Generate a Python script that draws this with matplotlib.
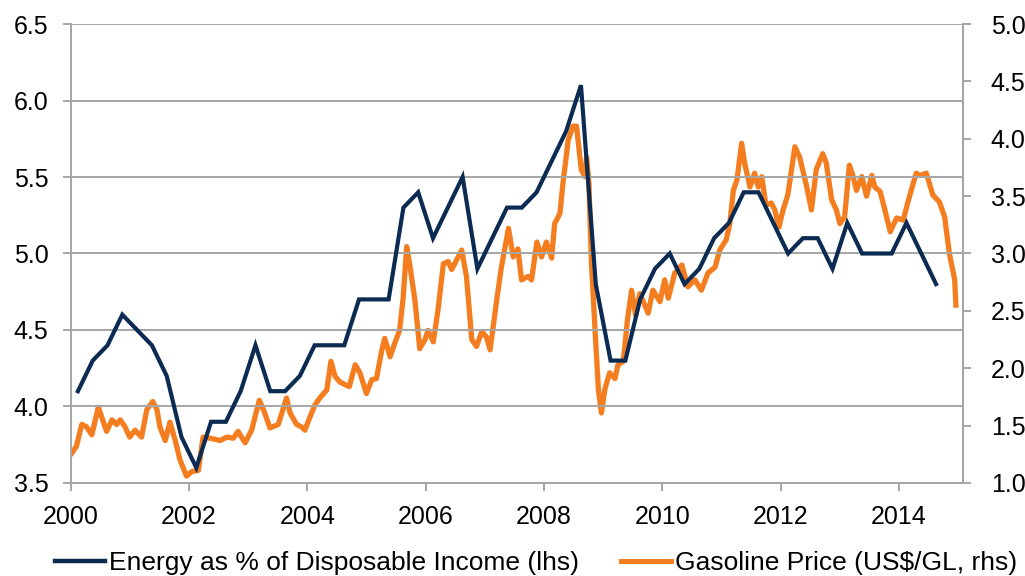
import matplotlib
matplotlib.use("Agg")
import matplotlib.pyplot as plt
from matplotlib.lines import Line2D

plt.rcParams['font.family'] = ['Liberation Sans', 'DejaVu Sans']

# Energy as % of disposable income (quarterly, lhs)
energy_start = 2000.125
energy_values = [
    4.1, 4.3, 4.4, 4.6,
    4.5, 4.4, 4.2, 3.8,
    3.6, 3.9, 3.9, 4.1,
    4.4, 4.1, 4.1, 4.2,
    4.4, 4.4, 4.4, 4.7,
    4.7, 4.7, 5.3, 5.4,
    5.1, 5.3, 5.5, 4.9,
    5.1, 5.3, 5.3, 5.4,
    5.6, 5.8, 6.1, 4.8,
    4.3, 4.3, 4.7, 4.9,
    5.0, 4.8, 4.9, 5.1,
    5.2, 5.4, 5.4, 5.2,
    5.0, 5.1, 5.1, 4.9,
    5.2, 5.0, 5.0, 5.0,
    5.2, 5.0, 4.8,
]
energy_dates = [energy_start + 0.25 * i for i in range(len(energy_values))]

# Gasoline price (US$/gal, rhs)
gas_dates = [
    2000.02, 2000.10, 2000.19, 2000.27, 2000.36, 2000.47, 2000.61, 2000.70,
    2000.78, 2000.84, 2000.92, 2001.00, 2001.09, 2001.20, 2001.29, 2001.39,
    2001.46, 2001.51, 2001.60, 2001.68, 2001.77, 2001.85, 2001.96, 2002.05,
    2002.16, 2002.24, 2002.36, 2002.53, 2002.64, 2002.75, 2002.83, 2002.95,
    2003.06, 2003.19, 2003.26, 2003.37, 2003.51, 2003.65, 2003.71, 2003.82,
    2003.90, 2003.96, 2004.05, 2004.13, 2004.21, 2004.33, 2004.40, 2004.47,
    2004.55, 2004.71, 2004.81, 2004.89, 2005.00, 2005.09, 2005.17, 2005.26,
    2005.31, 2005.40, 2005.48, 2005.56, 2005.62, 2005.68, 2005.73, 2005.82,
    2005.90, 2005.99, 2006.04, 2006.13, 2006.21, 2006.30, 2006.38, 2006.44,
    2006.52, 2006.61, 2006.69, 2006.78, 2006.86, 2006.95, 2007.03, 2007.09,
    2007.20, 2007.28, 2007.40, 2007.48, 2007.56, 2007.62, 2007.73, 2007.79,
    2007.88, 2007.96, 2008.04, 2008.13, 2008.18, 2008.27, 2008.32, 2008.41,
    2008.49, 2008.55, 2008.63, 2008.69, 2008.72, 2008.76, 2008.80, 2008.86,
    2008.92, 2008.97, 2009.03, 2009.11, 2009.20, 2009.25, 2009.34, 2009.41,
    2009.48, 2009.55, 2009.62, 2009.76, 2009.84, 2009.96, 2010.04, 2010.10,
    2010.21, 2010.33, 2010.43, 2010.55, 2010.66, 2010.77, 2010.89, 2010.97,
    2011.08, 2011.14, 2011.20, 2011.26, 2011.34, 2011.39, 2011.48, 2011.56,
    2011.62, 2011.68, 2011.75, 2011.84, 2011.90, 2011.97, 2012.04, 2012.12,
    2012.24, 2012.32, 2012.44, 2012.52, 2012.60, 2012.71, 2012.77, 2012.86,
    2012.94, 2013.00, 2013.08, 2013.16, 2013.22, 2013.28, 2013.37, 2013.45,
    2013.54, 2013.59, 2013.68, 2013.76, 2013.85, 2013.96, 2014.07, 2014.15,
    2014.29, 2014.35, 2014.46, 2014.57, 2014.68, 2014.77, 2014.85, 2014.94,
    2014.96,
]
gas_prices = [
    1.26, 1.32, 1.51, 1.49, 1.42, 1.66, 1.45, 1.55,
    1.51, 1.55, 1.49, 1.40, 1.46, 1.40, 1.64, 1.71,
    1.64, 1.49, 1.37, 1.53, 1.37, 1.20, 1.06, 1.10,
    1.11, 1.40, 1.39, 1.37, 1.40, 1.39, 1.45, 1.35,
    1.46, 1.72, 1.64, 1.48, 1.51, 1.74, 1.61, 1.51,
    1.49, 1.46, 1.58, 1.68, 1.74, 1.81, 2.06, 1.93,
    1.88, 1.84, 2.03, 1.96, 1.78, 1.90, 1.91, 2.16,
    2.26, 2.10, 2.22, 2.33, 2.61, 3.06, 2.91, 2.59,
    2.17, 2.25, 2.33, 2.23, 2.51, 2.91, 2.93, 2.86,
    2.94, 3.03, 2.80, 2.25, 2.19, 2.32, 2.27, 2.16,
    2.59, 2.88, 3.22, 2.97, 3.04, 2.77, 2.80, 2.77,
    3.10, 2.97, 3.10, 2.96, 3.26, 3.35, 3.61, 3.99,
    4.11, 4.11, 3.73, 3.67, 3.84, 3.61, 2.94, 2.36,
    1.81, 1.61, 1.82, 1.96, 1.91, 2.03, 2.06, 2.42,
    2.68, 2.46, 2.65, 2.48, 2.68, 2.58, 2.77, 2.61,
    2.83, 2.90, 2.71, 2.77, 2.68, 2.83, 2.88, 3.03,
    3.12, 3.26, 3.55, 3.64, 3.96, 3.79, 3.58, 3.70,
    3.58, 3.67, 3.42, 3.44, 3.38, 3.23, 3.38, 3.51,
    3.93, 3.84, 3.58, 3.38, 3.73, 3.87, 3.79, 3.47,
    3.38, 3.26, 3.32, 3.77, 3.68, 3.55, 3.67, 3.50,
    3.68, 3.58, 3.54, 3.38, 3.19, 3.31, 3.29, 3.45,
    3.70, 3.68, 3.70, 3.51, 3.45, 3.32, 3.00, 2.77,
    2.55,
]

x_ticks = [2000, 2002, 2004, 2006, 2008, 2010, 2012, 2014]
left_ticks = [3.5, 4.0, 4.5, 5.0, 5.5, 6.0, 6.5]
right_ticks = [1.0, 1.5, 2.0, 2.5, 3.0, 3.5, 4.0, 4.5, 5.0]

navy = '#0B2B52'
orange = '#F47D20'
grid_c = '#A6A6A6'

fig = plt.figure(figsize=(10.25, 5.76), dpi=100)
ax = fig.add_axes([0.0688, 0.1615, 0.8707, 0.7968])
ax2 = ax.twinx()

ax.set_xlim(2000, 2015.08)
ax.set_ylim(3.5, 6.5)
ax2.set_ylim(1.0, 5.0)

ax.set_xticks(x_ticks)
ax.set_xticklabels([str(t) for t in x_ticks])
ax.set_yticks(left_ticks)
ax.set_yticklabels([f"{t:.1f}" for t in left_ticks])
ax2.set_yticks(right_ticks)
ax2.set_yticklabels([f"{t:.1f}" for t in right_ticks])

ax.yaxis.grid(True, color=grid_c, linewidth=1.4)
ax.set_axisbelow(True)

for a in (ax, ax2):
    for s in a.spines.values():
        s.set_color(grid_c)
        s.set_linewidth(1.4)
    a.spines['top'].set_visible(False)
    a.tick_params(colors=grid_c, labelcolor='black', labelsize=18,
                  length=6, width=1.4)
ax.tick_params(axis='y', pad=10)
ax2.tick_params(axis='y', pad=14)
ax.tick_params(axis='x', pad=10)

ax2.plot(gas_dates, gas_prices, color=orange, linewidth=3.8,
         solid_joinstyle='round', zorder=2)
ax.plot(energy_dates, energy_values, color=navy, linewidth=3.0,
        solid_joinstyle='miter', zorder=3)
ax.set_zorder(ax2.get_zorder() + 1)
ax.patch.set_visible(False)

handles = [Line2D([], [], color=navy, linewidth=3.2),
           Line2D([], [], color=orange, linewidth=3.6)]
labels = ['Energy as % of Disposable Income (lhs)',
          'Gasoline Price (US$/GL, rhs)']
fig.legend(handles, labels, loc='lower center', bbox_to_anchor=(0.523, -0.04),
           ncol=2, frameon=False, fontsize=19, handlelength=1.9,
           handletextpad=0.15, columnspacing=1.6)

fig.savefig('out.png', dpi=100)
